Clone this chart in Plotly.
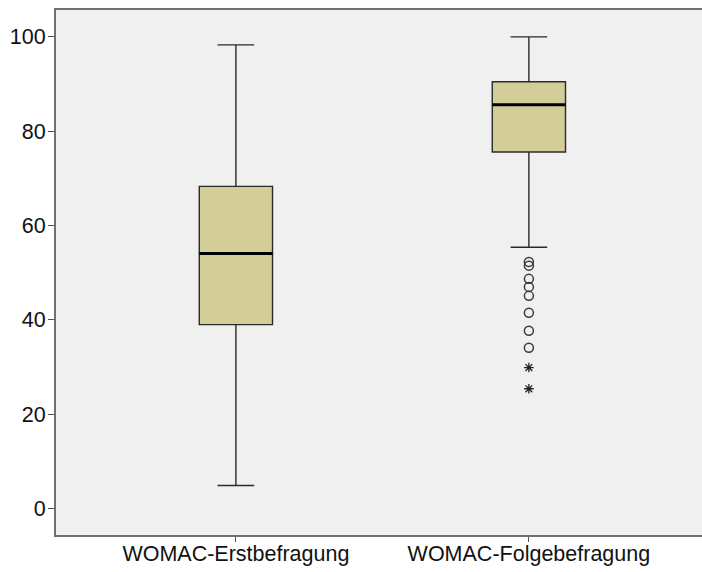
import plotly.graph_objects as go

categories = ["WOMAC-Erstbefragung", "WOMAC-Folgebefragung"]
positions = [0, 1]
q1 = [39.0, 75.6]
medians = [54.1, 85.6]
q3 = [68.3, 90.5]
lower_whisker = [4.9, 55.4]
upper_whisker = [98.3, 100.0]

# outliers of the second group (circles = mild, stars = extreme)
outliers_circle = [52.3, 51.5, 48.7, 47.0, 45.1, 41.5, 37.7, 34.1]
outliers_star = [29.9, 25.4]
outlier_group = 1

y_ticks = [0, 20, 40, 60, 80, 100]

BOX_W = 0.25
FILL = "#D3CE97"
LINE = "#2a2a2a"

fig = go.Figure()
for i, name in enumerate(categories):
    fig.add_trace(go.Box(
        x=[positions[i]], q1=[q1[i]], median=[medians[i]], q3=[q3[i]],
        lowerfence=[lower_whisker[i]], upperfence=[upper_whisker[i]],
        width=BOX_W, whiskerwidth=0.5, fillcolor=FILL,
        line=dict(color=LINE, width=1.4), boxpoints=False,
        name=name, showlegend=False, hoverinfo="skip",
    ))
    # thick median line
    fig.add_trace(go.Scatter(
        x=[positions[i] - BOX_W / 2, positions[i] + BOX_W / 2],
        y=[medians[i], medians[i]], mode="lines",
        line=dict(color="#000000", width=3), showlegend=False, hoverinfo="skip",
    ))

fig.add_trace(go.Scatter(
    x=[positions[outlier_group]] * len(outliers_circle), y=outliers_circle,
    mode="markers",
    marker=dict(symbol="circle-open", size=9, color="#3a3a3a", line=dict(width=1.5)),
    showlegend=False, hoverinfo="skip",
))
fig.add_trace(go.Scatter(
    x=[positions[outlier_group]] * len(outliers_star), y=outliers_star,
    mode="markers",
    marker=dict(symbol="asterisk-open", size=8, color="#222222", line=dict(width=1.3)),
    showlegend=False, hoverinfo="skip",
))

# the reference's frame runs past the right edge of the picture
fig.update_layout(
    width=712, height=572,
    margin=dict(l=56, r=0, t=10, b=37),
    paper_bgcolor="#FFFFFF", plot_bgcolor="#F0F0F0",
    font=dict(family="Liberation Sans, Arial, sans-serif", size=21.5, color="#111111"),
    showlegend=False,
)
fig.update_xaxes(
    range=[-0.614, 1.625], tickmode="array", tickvals=positions, ticktext=categories,
    showline=True, linecolor="#707070", linewidth=2, mirror=True,
    ticks="outside", ticklen=5, tickcolor="#555555", tickwidth=1,
    ticklabelstandoff=-7, automargin=False,
    showgrid=False, zeroline=False,
)
fig.update_yaxes(
    range=[-5.6, 105.7], tickmode="array", tickvals=y_ticks,
    showline=True, linecolor="#707070", linewidth=2,
    ticks="outside", ticklen=6, tickcolor="#555555", tickwidth=1,
    ticklabelstandoff=-2, automargin=False,
    showgrid=False, zeroline=False,
)

fig.write_html("out.html", config={"displayModeBar": False},
               post_script="document.body.style.margin='0';"
                           "document.body.style.overflow='hidden';")
